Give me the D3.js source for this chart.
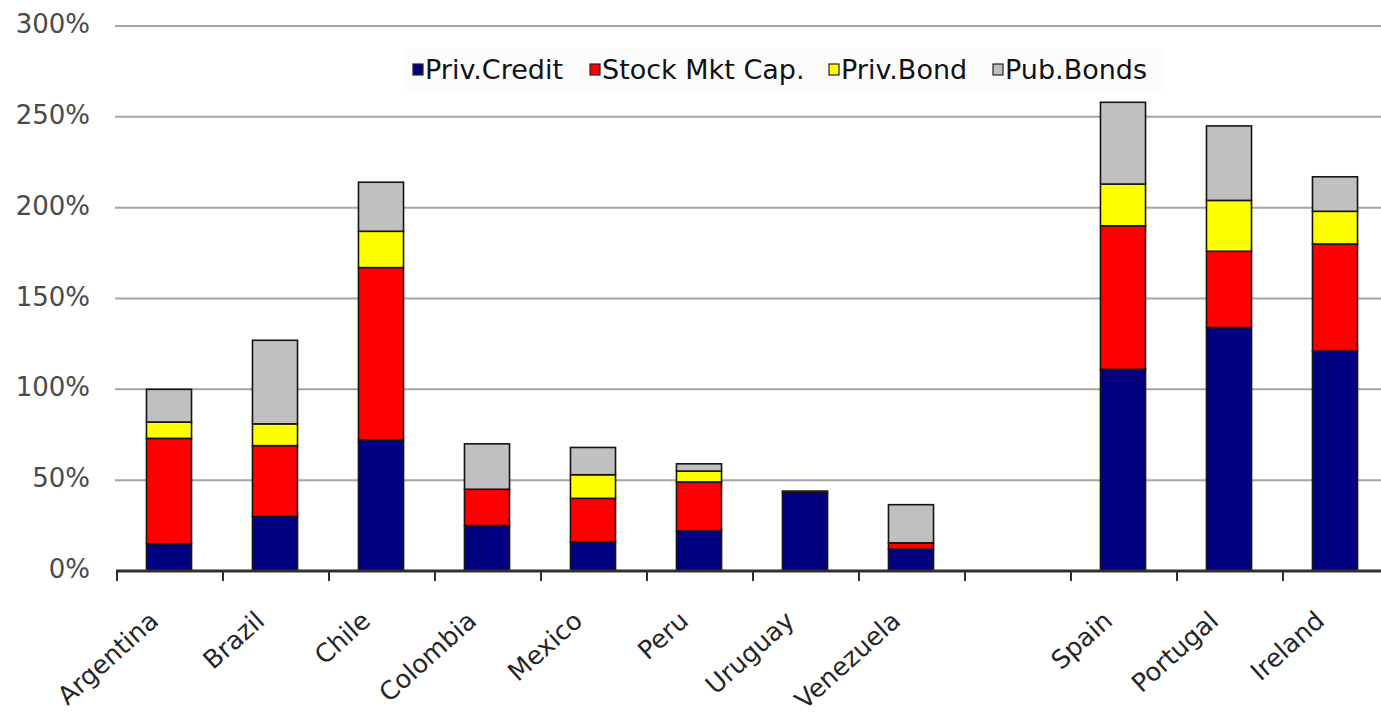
<!DOCTYPE html>
<html>
<head>
<meta charset="utf-8">
<script src="https://cdn.jsdelivr.net/npm/d3@7"></script>
<style>
  html, body { margin: 0; padding: 0; background: #fff; }
  svg { display: block; }
</style>
</head>
<body>
<svg id="chart" width="1381" height="714"></svg>
<script>
// Financial depth by country, % of GDP
const categories = ["Argentina", "Brazil", "Chile", "Colombia", "Mexico", "Peru", "Uruguay", "Venezuela", "", "Spain", "Portugal", "Ireland"];
const privCredit  = [15, 30, 72, 25, 16, 22, 43, 12, 0, 111, 134, 121];
const stockMktCap = [58, 39, 95, 20, 24, 27, 1, 3.5, 0, 79, 42, 59];
const privBond    = [9, 12, 20, 0, 13, 6, 0, 0, 0, 23, 28, 18];
const pubBonds    = [18, 46, 27, 25, 15, 4, 0, 21, 0, 45, 41, 19];
const seriesNames = ["Priv.Credit", "Stock Mkt Cap.", "Priv.Bond", "Pub.Bonds"];
const seriesColors = ["#000080", "#ff0000", "#ffff00", "#c0c0c0"];
const yTicks = [0, 50, 100, 150, 200, 250, 300];

const rows = categories.map((c, i) => ({
  idx: i, name: c,
  "Priv.Credit": privCredit[i],
  "Stock Mkt Cap.": stockMktCap[i],
  "Priv.Bond": privBond[i],
  "Pub.Bonds": pubBonds[i]
}));

const svg = d3.select("#chart");
const font = "'DejaVu Sans', Verdana, sans-serif";

const x = d3.scaleBand()
  .domain(d3.range(categories.length))
  .range([116, 1388])
  .paddingInner(0.575)
  .paddingOuter(0.2875);

const y = d3.scaleLinear().domain([0, 300]).range([571, 26]);

// horizontal gridlines
svg.append("g")
  .selectAll("line")
  .data(yTicks.filter(t => t > 0))
  .join("line")
  .attr("x1", 115).attr("x2", 1381)
  .attr("y1", d => y(d)).attr("y2", d => y(d))
  .attr("stroke", "#a4a4a4")
  .attr("stroke-width", 2);

// y axis labels
svg.append("g")
  .selectAll("text")
  .data(yTicks)
  .join("text")
  .attr("x", 90)
  .attr("y", d => y(d) - 2)
  .attr("text-anchor", "end")
  .attr("dominant-baseline", "central")
  .attr("font-family", font)
  .attr("font-size", 26)
  .attr("fill", "#4a4a4a")
  .text(d => d + "%");

// stacked bars
const stack = d3.stack().keys(seriesNames);
const stacked = stack(rows);
const color = d3.scaleOrdinal().domain(seriesNames).range(seriesColors);

svg.append("g")
  .selectAll("g")
  .data(stacked)
  .join("g")
  .attr("fill", d => color(d.key))
  .selectAll("rect")
  .data(d => d.filter(s => s[1] - s[0] > 0))
  .join("rect")
  .attr("x", d => x(d.data.idx))
  .attr("width", x.bandwidth())
  .attr("y", d => y(d[1]))
  .attr("height", d => y(d[0]) - y(d[1]))
  .attr("stroke", "#141414")
  .attr("stroke-width", 1.6);

// category axis
const step = x.step();
const x0 = 116;
svg.append("line")
  .attr("x1", x0).attr("x2", 1381)
  .attr("y1", y(0)).attr("y2", y(0))
  .attr("stroke", "#2f2f2f")
  .attr("stroke-width", 3);

svg.append("g")
  .selectAll("line")
  .data(d3.range(categories.length + 1))
  .join("line")
  .attr("x1", i => x0 + i * step + 1).attr("x2", i => x0 + i * step + 1)
  .attr("y1", y(0)).attr("y2", y(0) + 10)
  .attr("stroke", "#2f2f2f")
  .attr("stroke-width", 2);

svg.append("g")
  .selectAll("text")
  .data(rows.filter(r => r.name))
  .join("text")
  .attr("transform", d => `translate(${x(d.idx) + x.bandwidth() / 2 - 9},${623}) rotate(-42)`)
  .attr("text-anchor", "end")
  .attr("font-family", font)
  .attr("font-size", 25.5)
  .attr("fill", "#262626")
  .text(d => d.name);

// legend
const legend = svg.append("g");
legend.append("rect")
  .attr("x", 402).attr("y", 48)
  .attr("width", 764).attr("height", 46)
  .attr("fill", "#fcfcfc");

const legendX = [413, 590, 829, 993];
seriesNames.forEach((name, i) => {
  legend.append("rect")
    .attr("x", legendX[i]).attr("y", 64)
    .attr("width", 10).attr("height", 11)
    .attr("fill", seriesColors[i])
    .attr("stroke", "#222")
    .attr("stroke-width", 1.2);
  legend.append("text")
    .attr("x", legendX[i] + 12)
    .attr("y", 79)
    .attr("font-family", font)
    .attr("font-size", 27)
    .attr("fill", "#111")
    .text(name);
});
</script>
</body>
</html>
